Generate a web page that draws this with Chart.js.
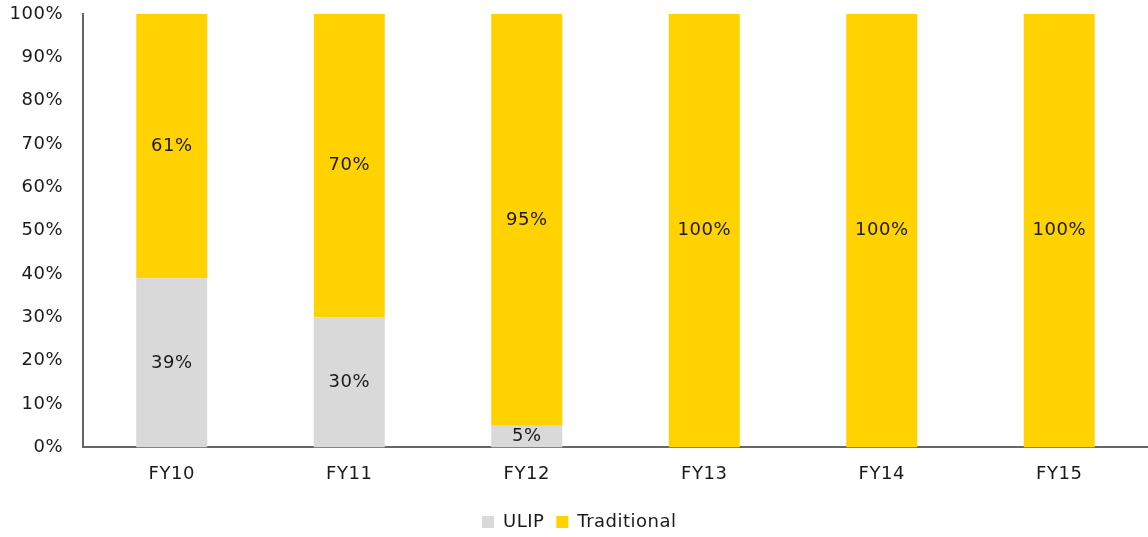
<!DOCTYPE html>
<html>
<head>
<meta charset="utf-8">
<script src="https://cdn.jsdelivr.net/npm/chart.js@4"></script>
<style>
  html, body { margin: 0; padding: 0; background: #fff; }
  #wrap { width: 1148px; height: 537px; }
</style>
</head>
<body>
<div id="wrap"><canvas id="mixChart"></canvas></div>
<script>
const categories = ["FY10", "FY11", "FY12", "FY13", "FY14", "FY15"];
const ulip = [39, 30, 5, 0, 0, 0];
const traditional = [61, 70, 95, 100, 100, 100];
const yTicks = [0, 10, 20, 30, 40, 50, 60, 70, 80, 90, 100];

const FONT = "DejaVu Sans";
const SPACING = "0.5px";

// draw the % numbers in the middle of each segment
const segmentLabels = {
  id: "segmentLabels",
  beforeDraw(chart) {
    chart.ctx.letterSpacing = SPACING;
  },
  afterDatasetsDraw(chart) {
    const ctx = chart.ctx;
    ctx.save();
    ctx.font = "18px " + FONT;
    ctx.letterSpacing = SPACING;
    ctx.fillStyle = "#1a1a1a";
    ctx.textAlign = "center";
    ctx.textBaseline = "middle";
    chart.data.datasets.forEach((ds, i) => {
      chart.getDatasetMeta(i).data.forEach((bar, j) => {
        const v = ds.data[j];
        if (!v) return;
        ctx.fillText(v + "%", bar.x, (bar.y + bar.base) / 2);
      });
    });
    ctx.restore();
  }
};

new Chart(document.getElementById("mixChart"), {
  type: "bar",
  data: {
    labels: categories,
    datasets: [
      { label: "ULIP", data: ulip, backgroundColor: "#d9d9d9" },
      { label: "Traditional", data: traditional, backgroundColor: "#ffd200" }
    ]
  },
  options: {
    responsive: true,
    maintainAspectRatio: false,
    animation: false,
    barPercentage: 0.4,
    categoryPercentage: 1,
    layout: { padding: { top: 14, right: -3, bottom: -4, left: 0 } },
    plugins: {
      legend: {
        position: "bottom",
        labels: {
          font: { family: FONT, size: 18 },
          color: "#1a1a1a",
          boxWidth: 12,
          boxHeight: 12,
          padding: 12
        }
      },
      tooltip: { enabled: false }
    },
    scales: {
      x: {
        stacked: true,
        grid: { display: false, drawTicks: false },
        border: { color: "#666", width: 2 },
        ticks: { font: { family: FONT, size: 18 }, color: "#1a1a1a", padding: 16 }
      },
      y: {
        stacked: true,
        min: 0,
        max: 100,
        afterBuildTicks: axis => { axis.ticks = yTicks.map(v => ({ value: v })); },
        afterFit: axis => { axis.width = 83; axis.paddingTop = 0; },
        grid: { display: false, drawTicks: false },
        border: { color: "#666", width: 2 },
        ticks: {
          font: { family: FONT, size: 18 },
          color: "#1a1a1a",
          padding: 20,
          callback: v => v + "%"
        }
      }
    }
  },
  plugins: [segmentLabels]
});
</script>
</body>
</html>
